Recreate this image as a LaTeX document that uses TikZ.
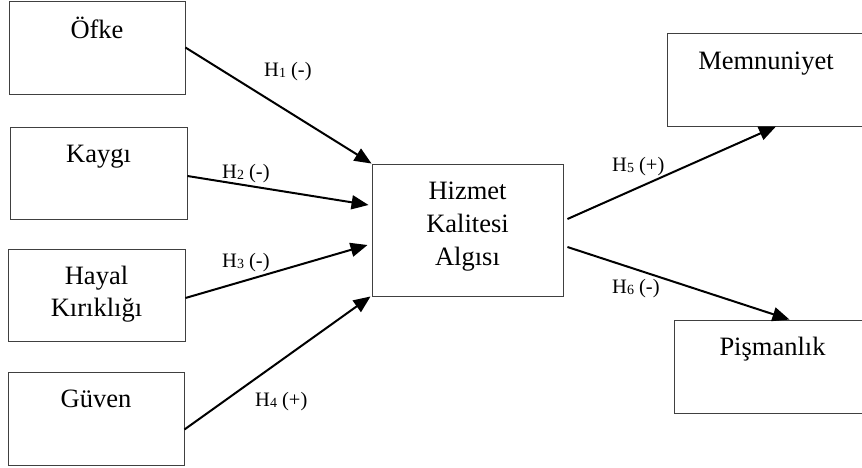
\documentclass[tikz,border=0pt]{standalone}
\usepackage{fontspec}
\setmainfont{Liberation Serif}
\usetikzlibrary{arrows.meta,calc}
\tikzset{
  box/.style={draw=black!75, line width=0.9pt, rectangle, inner sep=0pt},
  boxtext/.style={anchor=base, inner sep=0pt, font=\fontsize{26.5}{30}\selectfont},
  hyp/.style={anchor=base west, inner sep=0pt, font=\fontsize{20.5}{24}\selectfont},
  conn/.style={line width=2pt, -{Triangle[length=17pt,width=14pt]}},
}
\newcommand{\hsub}[1]{H\raisebox{-1.5pt}{\fontsize{14}{14}\selectfont #1}}
\begin{document}
\begin{tikzpicture}[x=1pt,y=-1pt]
\useasboundingbox (0,0) rectangle (862,467);
% boxes
\node[box, minimum width=176pt, minimum height=93pt] (b1) at (97,47.5) {};
\node[box, minimum width=177pt, minimum height=92pt] (b2) at (98.5,173) {};
\node[box, minimum width=177pt, minimum height=92pt] (b3) at (96.5,295) {};
\node[box, minimum width=176pt, minimum height=93pt] (b4) at (96,418.5) {};
\node[box, minimum width=191pt, minimum height=132pt] (c) at (467.5,230) {};
\node[box, minimum width=198pt, minimum height=93pt] (m) at (766,79.5) {};
\node[box, minimum width=197pt, minimum height=93pt] (p) at (772.5,366.5) {};
% box texts
\node[boxtext] (t1) at (97,38) {Öfke};
\node[boxtext] (t2) at (98.5,162) {Kaygı};
\node[boxtext] (t3a) at (96.5,284) {Hayal};
\node[boxtext] (t3b) at (96.5,316) {Kırıklığı};
\node[boxtext] (t4) at (96,407) {Güven};
\node[boxtext] (tc1) at (467.5,199) {Hizmet};
\node[boxtext] (tc2) at (467.5,232) {Kalitesi};
\node[boxtext] (tc3) at (467.5,265) {Algısı};
\node[boxtext] (tm) at (766,69) {Memnuniyet};
\node[boxtext] (tp) at (772.5,355) {Pişmanlık};
% connectors
\draw[conn] (b1.east) -- (c.north west);
\draw[conn] ([yshift=-3pt]b2.east) -- ([yshift=25pt,xshift=-3pt]c.west);
\draw[conn] ([yshift=-3pt]b3.east) -- ([yshift=-15pt,xshift=-4pt]c.west);
\draw[conn] ([yshift=-11pt]b4.east) -- ([xshift=-1pt]c.south west);
\draw[conn] ([xshift=4pt,yshift=11pt]c.east) -- ([xshift=10pt]m.south);
\draw[conn] ([xshift=4pt,yshift=-17pt]c.east) -- ([xshift=17pt]p.north);
% labels
\node[hyp] (h1) at (264,76) {\hsub{1} (-)};
\node[hyp] (h2) at (222,178) {\hsub{2} (-)};
\node[hyp] (h3) at (222,267) {\hsub{3} (-)};
\node[hyp] (h4) at (255,406) {\hsub{4} (+)};
\node[hyp] (h5) at (612,171) {\hsub{5} (+)};
\node[hyp] (h6) at (612,293) {\hsub{6} (-)};
\end{tikzpicture}
\end{document}
